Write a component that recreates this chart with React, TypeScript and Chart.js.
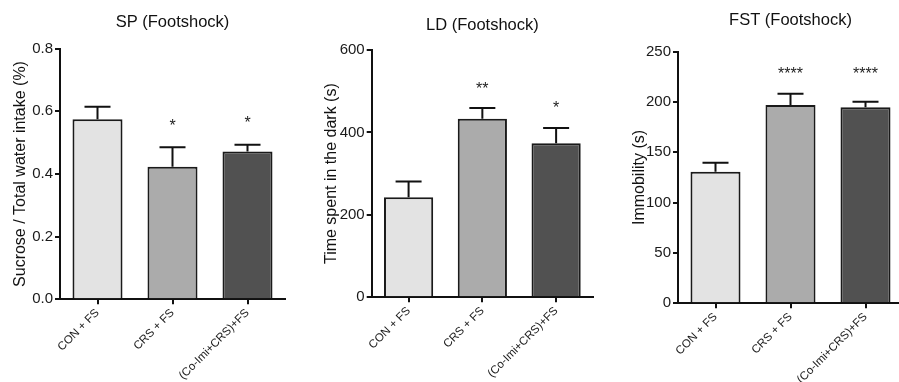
import React, { useEffect, useRef } from 'react';
import { Chart, registerables } from 'chart.js';

Chart.register(...registerables);

const FONT = "'Liberation Sans', Arial, Helvetica, sans-serif";

// ---------------- data ----------------
const categories = ['CON + FS', 'CRS + FS', '(Co-Imi+CRS)+FS'];
const barColors = ['#e3e3e3', '#ababab', '#515151'];

const spTitle = 'SP (Footshock)';
const spAxisTitle = 'Sucrose / Total water intake (%)';
const spMeans = [0.575, 0.423, 0.472];
const spErrors = [0.04, 0.062, 0.021];
const spStars = ['', '*', '*'];
const spStarValues = [0, 0.565, 0.576];
const spTickMin = 0;
const spTickMax = 0.8;
const spTickStep = 0.2;

const ldTitle = 'LD (Footshock)';
const ldAxisTitle = 'Time spent in the dark (s)';
const ldMeans = [243, 433, 374];
const ldErrors = [38, 26, 37];
const ldStars = ['', '**', '*'];
const ldStarValues = [0, 515, 469];
const ldTickMin = 0;
const ldTickMax = 600;
const ldTickStep = 200;

const fstTitle = 'FST (Footshock)';
const fstAxisTitle = 'Immobility (s)';
const fstMeans = [130.8, 197, 194.7];
const fstErrors = [8.8, 11.3, 5.6];
const fstStars = ['', '****', '****'];
const fstStarValues = [0, 232, 232];
const fstTickMin = 0;
const fstTickMax = 250;
const fstTickStep = 50;

// ---------------- layout ----------------
type PanelCfg = {
  left: number;
  width: number;
  areaLeft: number;
  areaRight: number;
  areaBottom: number;
  titlePadTop: number;
  titlePadBottom: number;
  axisTitlePad: number;
  title: string;
  axisTitle: string;
  means: number[];
  errors: number[];
  stars: string[];
  starValues: number[];
  min: number;
  max: number;
  step: number;
  decimals: number;
};

const H = 382;

const panels: PanelCfg[] = [
  {
    left: 0, width: 300, areaLeft: 60, areaRight: 285, areaBottom: 299.3,
    titlePadTop: 12.8, titlePadBottom: 16.1, axisTitlePad: 11.4,
    title: spTitle, axisTitle: spAxisTitle, means: spMeans, errors: spErrors,
    stars: spStars, starValues: spStarValues, min: spTickMin, max: spTickMax, step: spTickStep, decimals: 1,
  },
  {
    left: 300, width: 300, areaLeft: 71.7, areaRight: 293, areaBottom: 297.3,
    titlePadTop: 15.1, titlePadBottom: 15.1, axisTitlePad: 21.9,
    title: ldTitle, axisTitle: ldAxisTitle, means: ldMeans, errors: ldErrors,
    stars: ldStars, starValues: ldStarValues, min: ldTickMin, max: ldTickMax, step: ldTickStep, decimals: 0,
  },
  {
    left: 600, width: 310, areaLeft: 78, areaRight: 303, areaBottom: 303.3,
    titlePadTop: 10.1, titlePadBottom: 21.8, axisTitlePad: 30.4,
    title: fstTitle, axisTitle: fstAxisTitle, means: fstMeans, errors: fstErrors,
    stars: fstStars, starValues: fstStarValues, min: fstTickMin, max: fstTickMax, step: fstTickStep, decimals: 0,
  },
];

function makeErrorPlugin(cfg: PanelCfg) {
  return {
    id: 'errorBarsStars',
    afterDatasetsDraw(chart: any) {
      const ctx = chart.ctx as CanvasRenderingContext2D;
      const y = chart.scales.y;
      const meta = chart.getDatasetMeta(0);
      ctx.save();
      ctx.strokeStyle = '#111';
      ctx.lineWidth = 2;
      meta.data.forEach((bar: any, i: number) => {
        const x = bar.x;
        const yTop = y.getPixelForValue(cfg.means[i]);
        const yCap = y.getPixelForValue(cfg.means[i] + cfg.errors[i]);
        ctx.beginPath();
        ctx.moveTo(x, yTop);
        ctx.lineTo(x, yCap);
        ctx.moveTo(x - 13, yCap);
        ctx.lineTo(x + 13, yCap);
        ctx.stroke();
        if (cfg.stars[i]) {
          ctx.fillStyle = '#222';
          ctx.font = `16px ${FONT}`;
          ctx.textAlign = 'center';
          ctx.textBaseline = 'alphabetic';
          ctx.fillText(cfg.stars[i], x, y.getPixelForValue(cfg.starValues[i]) + 9);
        }
      });
      ctx.restore();
    },
  };
}

function Panel({ cfg }: { cfg: PanelCfg }) {
  const ref = useRef<HTMLCanvasElement>(null);
  useEffect(() => {
    const chart = new Chart(ref.current!, {
      type: 'bar',
      data: {
        labels: categories,
        datasets: [
          {
            data: cfg.means,
            backgroundColor: barColors,
            borderColor: '#1a1a1a',
            borderWidth: 2,
            barPercentage: 0.667,
            categoryPercentage: 1,
          },
        ],
      },
      options: {
        responsive: false,
        animation: false,
        devicePixelRatio: 1,
        layout: {
          padding: { left: 0, top: 0, bottom: 0, right: cfg.width - cfg.areaRight },
        },
        plugins: {
          legend: { display: false },
          tooltip: { enabled: false },
          title: {
            display: true,
            text: cfg.title,
            fullSize: false,
            color: '#111',
            font: { family: FONT, size: 16.5, weight: 'normal' },
            padding: { top: cfg.titlePadTop, bottom: cfg.titlePadBottom },
          },
        },
        scales: {
          x: {
            offset: true,
            afterFit: (scale: any) => {
              scale.height = H - cfg.areaBottom;
            },
            grid: {
              display: true,
              offset: false,
              drawOnChartArea: false,
              drawTicks: true,
              tickLength: 5,
              color: '#111',
              lineWidth: 2,
            },
            border: { display: true, color: '#111', width: 2 },
            ticks: {
              autoSkip: false,
              maxRotation: 45,
              minRotation: 45,
              padding: 2,
              color: '#1a1a1a',
              font: { family: FONT, size: 11.5 },
            },
          },
          y: {
            min: cfg.min,
            max: cfg.max,
            afterFit: (scale: any) => {
              scale.width = cfg.areaLeft;
            },
            grid: {
              display: true,
              drawOnChartArea: false,
              drawTicks: true,
              tickLength: 5,
              color: '#111',
              lineWidth: 2,
            },
            border: { display: true, color: '#111', width: 2 },
            ticks: {
              stepSize: cfg.step,
              padding: 2,
              color: '#1a1a1a',
              font: { family: FONT, size: 15 },
              callback: (v: any) => Number(v).toFixed(cfg.decimals),
            },
            title: {
              display: true,
              text: cfg.axisTitle,
              color: '#111',
              font: { family: FONT, size: 16 },
              padding: { top: cfg.axisTitlePad, bottom: 0 },
            },
          },
        },
      },
      plugins: [makeErrorPlugin(cfg)],
    } as any);
    return () => chart.destroy();
  }, [cfg]);
  return (
    <canvas
      ref={ref}
      width={cfg.width}
      height={H}
      style={{ position: 'absolute', left: cfg.left, top: 0, width: cfg.width, height: H }}
    />
  );
}

export default function App() {
  return (
    <div
      style={{
        position: 'absolute',
        left: 0,
        top: 0,
        width: 899,
        height: H,
        overflow: 'hidden',
        background: '#fff',
      }}
    >
      {panels.map((p, i) => (
        <Panel key={i} cfg={p} />
      ))}
    </div>
  );
}
